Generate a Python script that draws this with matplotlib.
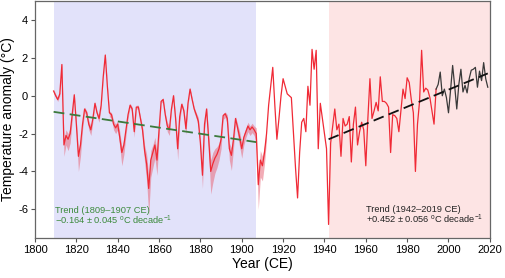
import numpy as np
import matplotlib
matplotlib.use("Agg")
import matplotlib.pyplot as plt

plt.rcParams['font.family'] = ['Liberation Sans', 'DejaVu Sans']
plt.rcParams['mathtext.fontset'] = 'custom'
plt.rcParams['mathtext.rm'] = 'Liberation Sans'
plt.rcParams['axes.unicode_minus'] = False

# ── Data ───────────────────────────────────────────────────────────────────────

# Reconstructed temperature anomaly (red), 1809-1994
recon_start = 1809
recon_vals = [
    0.25, 0.0, -0.2, 0.1, 1.65, -2.6, -2.1, -2.3, -2.0, -1.0,          # 1809-1818
    0.05, -1.5, -3.2, -2.6, -1.5, -0.7, -0.9, -1.5, -1.8, -1.2,        # 1819-1828
    -0.4, -0.9, -1.2, -0.5, 1.0, 2.15, 0.5, -0.9, -1.0, -1.5,          # 1829-1838
    -1.7, -1.5, -2.2, -3.0, -2.6, -1.8, -1.0, -0.5, -0.7, -1.9,        # 1839-1848
    -0.6, -0.6, -1.2, -1.8, -2.9, -3.6, -4.9, -3.4, -3.0, -2.6,        # 1849-1858
    -3.4, -1.8, -0.3, -0.2, -1.0, -1.6, -1.8, -0.7, 0.0, -1.2,         # 1859-1868
    -2.8, -1.1, -0.45, -0.8, -1.75, -0.4, 0.35, -0.2, -0.7, -1.0,      # 1869-1878
    -1.35, -2.5, -4.2, -1.5, -0.7, -2.3, -4.0, -3.6, -3.3, -3.1,       # 1879-1888
    -2.8, -2.3, -1.05, -0.95, -1.2, -2.8, -3.15, -2.3, -1.2, -1.7,     # 1889-1898
    -2.2, -2.8, -2.2, -1.9, -1.6, -1.8, -1.65, -1.8, -2.0, -4.7,       # 1899-1908
    -3.4, -3.7, -3.0, -2.0, -0.5, 0.5, 1.5, -0.5, -2.3, -1.2,          # 1909-1918
    0.0, 0.9, 0.5, 0.1, 0.0, -0.1, -2.0, -3.8, -5.4, -3.0,             # 1919-1928
    -1.4, -1.2, -1.9, 0.5, -0.5, 2.45, 1.4, 2.4, -2.8, -0.4,           # 1929-1938
    -1.2, -2.0, -2.8, -6.8, -2.5, -1.6, -0.7, -1.8, -1.5, -3.2,        # 1939-1948
    -1.2, -1.6, -1.5, -1.1, -3.5, -1.5, -0.6, -2.6, -1.9, -1.4,        # 1949-1958
    -1.8, -3.7, -1.2, 0.9, -1.2, -0.8, -0.35, -0.8, 1.0, -0.3,         # 1959-1968
    -0.3, -0.4, -0.6, -3.0, -1.0, -1.05, -1.2, -1.9, -0.8, 0.35,       # 1969-1978
    -0.15, 0.95, 0.7, -0.2, -0.9, -4.0, -1.5, -0.3, 2.4, 0.2,          # 1979-1988
    0.4, 0.3, -0.1, -0.8, -1.5, 0.35,                                  # 1989-1994
]

# Uncertainty band offsets below / above the reconstruction, 1809-1912
band_lo = [
    0.1, 0.1, 0.1, 0.1, 0.1, 0.6, 0.5, 0.6, 0.5, 0.3,
    0.1, 0.4, 0.8, 0.6, 0.3, 0.2, 0.2, 0.3, 0.3, 0.2,
    0.1, 0.2, 0.2, 0.1, 0.1, 0.1, 0.1, 0.2, 0.2, 0.3,
    0.3, 0.3, 0.5, 0.7, 0.5, 0.3, 0.2, 0.1, 0.2, 0.3,
    0.1, 0.1, 0.2, 0.4, 0.6, 0.9, 1.4, 0.9, 0.8, 0.7,
    0.8, 0.4, 0.1, 0.1, 0.2, 0.3, 0.3, 0.1, 0.1, 0.2,
    0.6, 0.3, 0.1, 0.2, 0.3, 0.1, 0.1, 0.1, 0.2, 0.2,
    0.3, 0.4, 0.7, 0.3, 0.2, 0.6, 1.2, 1.0, 0.8, 0.7,
    0.6, 0.5, 0.2, 0.2, 0.3, 0.6, 0.8, 0.5, 0.2, 0.4,
    0.5, 0.5, 0.4, 0.3, 0.3, 0.3, 0.3, 0.3, 0.5, 1.3,
    0.9, 0.8, 0.6, 0.3,
]
band_hi = [
    0.1, 0.1, 0.1, 0.1, 0.1, 0.3, 0.3, 0.3, 0.3, 0.2,
    0.1, 0.2, 0.3, 0.3, 0.2, 0.1, 0.1, 0.2, 0.2, 0.1,
    0.1, 0.1, 0.1, 0.1, 0.1, 0.1, 0.1, 0.1, 0.1, 0.2,
    0.2, 0.2, 0.3, 0.3, 0.3, 0.2, 0.1, 0.1, 0.1, 0.2,
    0.1, 0.1, 0.1, 0.2, 0.3, 0.5, 0.6, 0.5, 0.4, 0.4,
    0.4, 0.2, 0.1, 0.1, 0.1, 0.2, 0.2, 0.1, 0.1, 0.1,
    0.3, 0.2, 0.1, 0.1, 0.2, 0.1, 0.1, 0.1, 0.1, 0.1,
    0.2, 0.2, 0.3, 0.2, 0.1, 0.3, 0.6, 0.6, 0.5, 0.4,
    0.3, 0.3, 0.1, 0.1, 0.2, 0.3, 0.4, 0.3, 0.1, 0.2,
    0.3, 0.3, 0.2, 0.2, 0.2, 0.2, 0.2, 0.2, 0.3, 0.6,
    0.5, 0.5, 0.4, 0.2,
]

# Instrumental record (black), 1994-2019
instr_start = 1994
instr_vals = [
    0.35, 0.6, 1.25, 0.0, 0.35, -0.1, -0.9, 0.3, 1.6, 0.5,
    -0.7, 0.6, 1.4, 0.2, 0.55, 0.15, 0.9, 1.35, 1.4, 1.5,
    0.45, 1.3, 0.8, 1.75, 0.9, 0.45,
]

# Trend periods and fitted end values
trend1_years = [1809, 1907]
trend1_vals = [-0.85, -2.45]
trend2_years = [1942, 2019]
trend2_vals = [-2.3, 1.18]

period1 = (1809, 1907)
period2 = (1942, 2020)

# ── Plot ───────────────────────────────────────────────────────────────────────

recon_years = np.arange(recon_start, recon_start + len(recon_vals))
recon = np.array(recon_vals)
band_years = recon_years[:len(band_lo)]
band_mid = recon[:len(band_lo)]
instr_years = np.arange(instr_start, instr_start + len(instr_vals))

fig = plt.figure(figsize=(5.05, 2.78), dpi=100)
ax = fig.add_axes([0.0693, 0.145, 0.9007, 0.851])

ax.axvspan(*period1, color="#E2E2FA", lw=0, zorder=0)
ax.axvspan(*period2, color="#FDE4E4", lw=0, zorder=0)

ax.fill_between(band_years, band_mid - np.array(band_lo), band_mid + np.array(band_hi),
                color="#E8687A", alpha=0.55, lw=0, zorder=2)
ax.plot(recon_years, recon, color="#F02A36", lw=0.9, zorder=3)
ax.plot(instr_years, instr_vals, color="#3A3A3A", lw=0.9, zorder=3)

ax.plot(trend1_years, trend1_vals, color="#3C7A3C", lw=1.3, ls=(0, (6, 3)), zorder=4)
ax.plot(trend2_years, trend2_vals, color="#111111", lw=1.3, ls=(0, (6, 3)), zorder=4)

ax.text(1809.7, -6.05, "Trend (1809\u20131907 CE)", color="#3C8A3C", fontsize=6.7,
        va="center", ha="left")
ax.text(1809.7, -6.6, "\u22120.164 \u00b1 0.045 $^{\\mathrm{o}}$C decade$^{-1}$",
        color="#3C8A3C", fontsize=6.7, va="center", ha="left")
ax.text(1960, -6.0, "Trend (1942\u20132019 CE)", color="#222222", fontsize=6.7,
        va="center", ha="left")
ax.text(1960, -6.55, "+0.452 \u00b1 0.056 $^{\\mathrm{o}}$C decade$^{-1}$",
        color="#222222", fontsize=6.7, va="center", ha="left")

ax.set_xlim(1800, 2020)
ax.set_ylim(-7.5, 5)
ax.set_xticks(np.arange(1800, 2021, 20))
ax.set_yticks(np.arange(-6, 5, 2))
ax.tick_params(labelsize=8, direction="out", length=3, width=0.8, colors="#555555",
               labelcolor="black", pad=2)
ax.set_xlabel("Year (CE)", fontsize=10, labelpad=2)
ax.set_ylabel("Temperature anomaly (\u00b0C)", fontsize=10, labelpad=2)
for s in ax.spines.values():
    s.set_color("#666666")
    s.set_linewidth(0.9)

fig.savefig("out.png", dpi=100)
